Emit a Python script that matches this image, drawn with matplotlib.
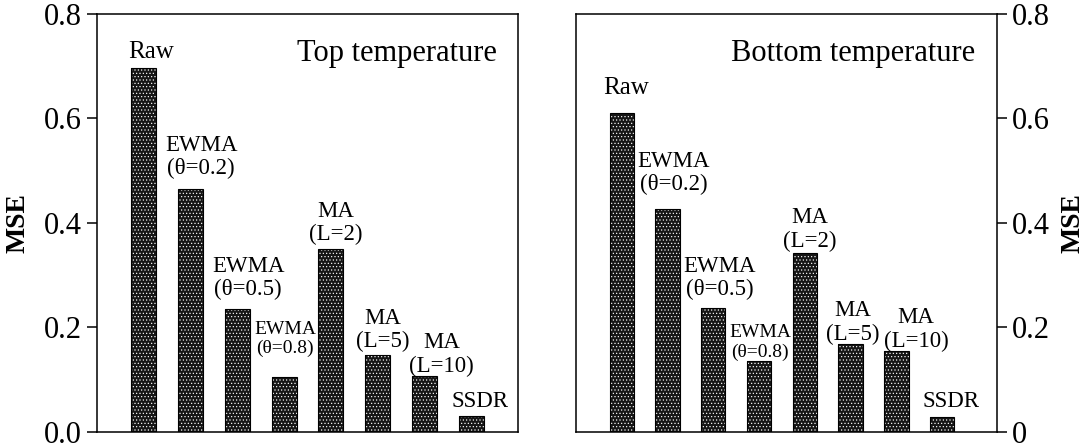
import numpy as np
import matplotlib.pyplot as plt
from matplotlib.ticker import FixedLocator, FixedFormatter

plt.rcParams['font.family'] = ['Liberation Serif', 'DejaVu Serif']
plt.rcParams['hatch.linewidth'] = 0.45

# MSE of each filtering method
methods = ['Raw', 'EWMA\n(θ=0.2)', 'EWMA\n(θ=0.5)', 'EWMA\n(θ=0.8)',
           'MA\n(L=2)', 'MA\n(L=5)', 'MA\n(L=10)', 'SSDR']
top_mse = [0.697, 0.465, 0.235, 0.105, 0.350, 0.146, 0.107, 0.031]
bottom_mse = [0.610, 0.426, 0.236, 0.136, 0.343, 0.168, 0.154, 0.028]

yticks = [0.0, 0.2, 0.4, 0.6, 0.8]
left_ticklabels = ['0.0', '0.2', '0.4', '0.6', '0.8']
right_ticklabels = ['0', '0.2', '0.4', '0.6', '0.8']

# where the method names sit (x, bottom of text) and their sizes
top_label_pos = [(0.15, 0.706), (1.23, 0.483), (2.23, 0.252), (3.02, 0.143),
                 (4.10, 0.357), (5.10, 0.152), (6.37, 0.105), (7.18, 0.038)]
bottom_label_pos = [(0.09, 0.638), (1.14, 0.453), (2.14, 0.252), (3.02, 0.136),
                    (4.10, 0.344), (5.04, 0.166), (6.43, 0.153), (7.20, 0.037)]
label_sizes = [18, 16.5, 16.5, 14, 16.5, 16.5, 16.5, 16.5]


def draw_panel(ax, values, label_pos, title, xlim, side, ticklabels):
    x = np.arange(len(values))
    # dotted fill: white dots over a dark face, then a black outline
    ax.bar(x, values, width=0.53, color='#161616', edgecolor='white',
           hatch='.....', linewidth=0, zorder=2)
    ax.bar(x, values, width=0.53, fill=False, edgecolor='black',
           linewidth=0.8, zorder=3)
    for name, (lx, ly), fs in zip(methods, label_pos, label_sizes):
        ax.text(lx, ly, name, ha='center', va='bottom', fontsize=fs,
                linespacing=1.15)
    ax.text(0.949, 0.887, title, transform=ax.transAxes, ha='right',
            va='baseline', fontsize=22)

    ax.set_xlim(*xlim)
    ax.set_ylim(0, 0.8)
    ax.set_xticks([])
    ax.yaxis.set_major_locator(FixedLocator(yticks))
    ax.yaxis.set_major_formatter(FixedFormatter(ticklabels))
    ax.tick_params(axis='y', direction='out', length=7, width=1.1,
                   labelsize=22, pad=4)
    for s in ax.spines.values():
        s.set_linewidth(1.1)

    if side == 'right':
        ax.yaxis.tick_right()
        ax.yaxis.set_label_position('right')
        ax.set_ylabel('MSE', fontsize=20, fontweight='bold', rotation=90)
        ax.yaxis.set_label_coords(1.150, 0.5)
    else:
        ax.set_ylabel('MSE', fontsize=20, fontweight='bold')
        ax.yaxis.set_label_coords(-0.159, 0.5)


fig = plt.figure(figsize=(10.86, 4.48), dpi=100)
ax1 = fig.add_axes([0.0893, 0.0364, 0.3877, 0.9324])
ax2 = fig.add_axes([0.5304, 0.0364, 0.3877, 0.9324])

draw_panel(ax1, top_mse, top_label_pos, 'Top temperature', (-1.0, 8.0),
           'left', left_ticklabels)
draw_panel(ax2, bottom_mse, bottom_label_pos, 'Bottom temperature', (-1.0, 8.2),
           'right', right_ticklabels)

fig.savefig('out.png', dpi=100)
